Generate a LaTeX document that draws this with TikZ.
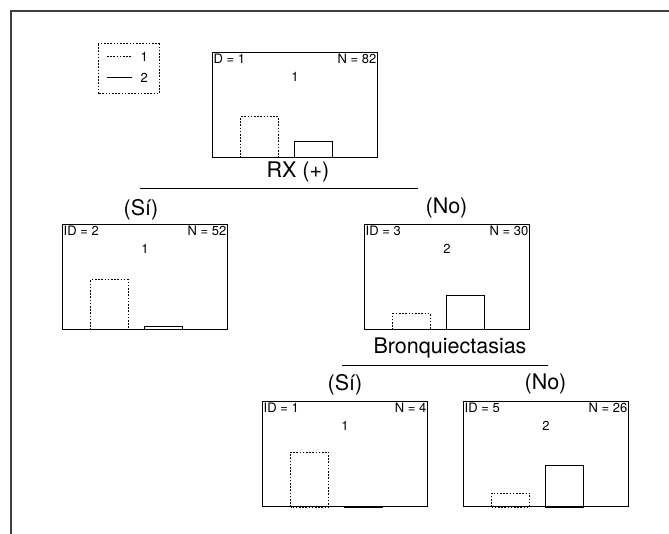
\documentclass[tikz,border=0pt]{standalone}
\usepackage{fontspec}
\setmainfont{TeX Gyre Heros}
\usetikzlibrary{calc}
\tikzset{
  treebox/.style={draw, line width=1pt, rectangle, inner sep=0pt,
    minimum width=165pt, minimum height=105pt, anchor=north west},
  dotbar/.style={draw, line width=1pt, dash pattern=on 1.6pt off 1.6pt},
  solidbar/.style={draw, line width=1pt},
  small/.style={font=\fontsize{13}{15}\selectfont, inner sep=1.5pt},
  big/.style={font=\fontsize{21.5}{24}\selectfont, inner sep=0pt},
  split/.style={draw, line width=0.9pt}
}
% tree node: name, left x, top y, id text, count text, class, height of bar 1, height of bar 2
\newcommand{\treenode}[8]{%
  \node[treebox] (#1) at (#2,#3) {};
  \node[small, anchor=north west] (#1-id) at (#1.north west) {#4};
  \node[small, anchor=north east] (#1-n) at (#1.north east) {#5};
  \node[small] (#1-c) at ($(#1.north)+(0,25)$) {#6};
  \draw[dotbar] ($(#1.south west)+(28.5,0)$) rectangle ++(38,-#7);
  \draw[solidbar] ($(#1.south west)+(82,0)$) rectangle ++(38,-#8);
}
\begin{document}
\begin{tikzpicture}[x=1pt,y=-1pt]
\useasboundingbox (0,0) rectangle (669,534);
% outer frame (top and left edges only)
\draw[line width=1.4pt, black!75] (669,11) -- (11,11) -- (11,534);

% legend
\draw[dotbar] (98,44) rectangle (159,94);
\draw[dotbar] (107,57) -- (132,57);
\node[small, anchor=west] (leg1) at (139,57) {1};
\draw[solidbar] (107,78) -- (132,78);
\node[small, anchor=west] (leg2) at (139,78) {2};

% nodes
\treenode{n1}{212}{52}{D = 1}{N = 82}{1}{41}{16}
\treenode{n2}{62}{224}{ID = 2}{N = 52}{1}{50}{3}
\treenode{n3}{364}{224}{ID = 3}{N = 30}{2}{16}{34}
\treenode{n4}{262}{401}{ID = 1}{N = 4}{1}{55}{1}
\treenode{n5}{463}{401}{ID = 5}{N = 26}{2}{14}{42}

% first split
\node[big] (rx) at (298,172) {RX (+)};
\draw[split] (140,188) -- (418,188);
\node[big] (si1) at (141,210) {(Sí)};
\node[big] (no1) at (446.5,208) {(No)};

% second split
\node[big] (br) at (450,348) {Bronquiectasias};
\draw[split] (342,365) -- (548,365);
\node[big] (si2) at (345,385) {(Sí)};
\node[big] (no2) at (545.5,384) {(No)};
\end{tikzpicture}
\end{document}
